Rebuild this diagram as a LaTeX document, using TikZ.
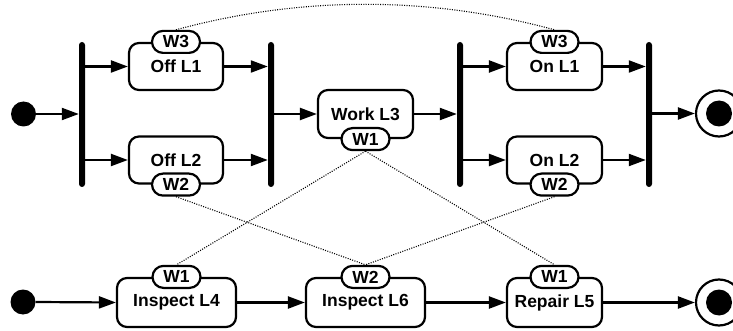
\documentclass[tikz,border=0pt]{standalone}
\usepackage{fontspec}
\setmainfont{Liberation Sans}
\usetikzlibrary{arrows.meta}
\begin{document}
\begin{tikzpicture}[x=1pt,y=-1pt,
 every node/.style={font=\fontsize{17.5}{19}\selectfont\bfseries},
 state/.style={draw,line width=2.2pt,rounded corners=10pt,minimum height=47pt,inner sep=0pt},
 tag/.style={draw,line width=2.2pt,fill=white,rounded corners=11pt,minimum width=48pt,minimum height=22pt,inner sep=0pt},
 bar/.style={fill=black,rounded corners=3pt,minimum width=6pt,minimum height=145pt,inner sep=0pt},
 startdot/.style={circle,fill=black,minimum size=25pt,inner sep=0pt},
 endouter/.style={circle,draw,line width=2.2pt,fill=white,minimum size=46pt,inner sep=0pt},
 enddot/.style={circle,fill=black,minimum size=26pt,inner sep=0pt},
 flow/.style={line width=2.2pt,-{Triangle[length=17pt,width=12pt]}},
 link/.style={line width=1.1pt,dash pattern=on 1pt off 1.4pt}]
\useasboundingbox (0,0) rectangle (733,331);
% top row
\node[startdot] (s1) at (23.5,114) {};
\node[bar] (f1) at (82,114.5) {};
\node[state,minimum width=94pt] (offl1) at (176,66.5) {Off L1};
\node[state,minimum width=94pt] (offl2) at (176,160) {Off L2};
\node[bar] (j1) at (271,114.5) {};
\node[state,minimum width=95pt,minimum height=48pt] (work) at (365.5,114) {Work L3};
\node[bar] (f2) at (460,114.5) {};
\node[state,minimum width=95pt] (onl1) at (554.5,66.5) {On L1};
\node[state,minimum width=95pt] (onl2) at (554.5,160) {On L2};
\node[bar] (j2) at (649,114.5) {};
\node[endouter] (e1) at (719,113.5) {};
\node[enddot] (e1d) at (e1) {};
% bottom row
\node[startdot] (s2) at (23,302) {};
\node[state,minimum width=119pt,minimum height=49pt] (insp4) at (176.5,302.5) {Inspect L4};
\node[state,minimum width=119pt,minimum height=49pt] (insp6) at (365.5,302.5) {Inspect L6};
\node[state,minimum width=95pt,minimum height=49pt] (rep) at (554.5,302.5) {Repair L5};
\node[endouter] (e2) at (719,302.5) {};
\node[enddot] (e2d) at (e2) {};
% flows
\draw[flow] (s1.east) -- (s1 -| f1.west);
\draw[flow] (f1.east |- offl1) -- (offl1.west);
\draw[flow] (f1.east |- offl2) -- (offl2.west);
\draw[flow] (offl1.east) -- (offl1 -| j1.west);
\draw[flow] (offl2.east) -- (offl2 -| j1.west);
\draw[flow] (j1.east |- work) -- (work.west);
\draw[flow] (work.east) -- (work -| f2.west);
\draw[flow] (f2.east |- onl1) -- (onl1.west);
\draw[flow] (f2.east |- onl2) -- (onl2.west);
\draw[flow] (onl1.east) -- (onl1 -| j2.west);
\draw[flow] (onl2.east) -- (onl2 -| j2.west);
\draw[flow] (j2.east |- e1) -- (e1.west);
\draw[flow] (s2.east) -- (insp4.west);
\draw[flow] (insp4.east) -- (insp6.west);
\draw[flow] (insp6.east) -- (rep.west);
\draw[flow] (rep.east) -- (e2.west);
% tags
\node[tag] (toffl1) at (offl1.north) {W3};
\node[tag] (toffl2) at (offl2.south) {W2};
\node[tag] (twork) at (work.south) {W1};
\node[tag] (tonl1) at (onl1.north) {W3};
\node[tag] (tonl2) at (onl2.south) {W2};
\node[tag] (t4) at (insp4.north) {W1};
\node[tag] (t6) at (insp6.north) {W2};
\node[tag] (tr) at (rep.north) {W1};
% dotted links
\draw[link] (toffl1.north) .. controls +(125,-34) and +(-125,-34) .. (tonl1.north);
\draw[link] (twork.south) -- (t4.north);
\draw[link] (twork.south) -- (tr.north);
\draw[link] (toffl2.south) -- (t6.north);
\draw[link] (tonl2.south) -- (t6.north);
\end{tikzpicture}
\end{document}
